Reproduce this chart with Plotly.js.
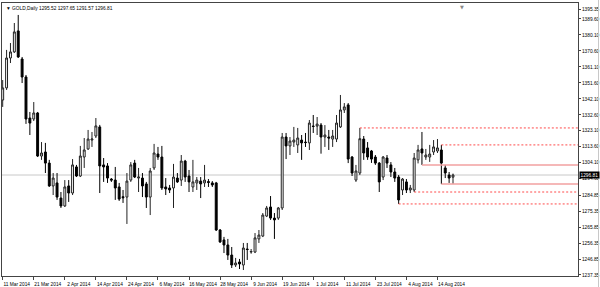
<!DOCTYPE html>
<html><head><meta charset="utf-8">
<script src="https://cdn.plot.ly/plotly-3.0.1.min.js"></script>
<style>html,body{margin:0;padding:0;background:#fff;}#chart{width:600px;height:287px;}</style>
</head><body><div id="chart"></div>
<script>
const dates = [
"2014-03-11","2014-03-12","2014-03-13","2014-03-14","2014-03-17","2014-03-18","2014-03-19","2014-03-20","2014-03-21","2014-03-24","2014-03-25","2014-03-26","2014-03-27","2014-03-28","2014-03-31",
"2014-04-01","2014-04-02","2014-04-03","2014-04-04","2014-04-07","2014-04-08","2014-04-09","2014-04-10","2014-04-11","2014-04-14","2014-04-15","2014-04-16","2014-04-17","2014-04-18","2014-04-21","2014-04-22","2014-04-23","2014-04-24","2014-04-25","2014-04-28","2014-04-29","2014-04-30",
"2014-05-01","2014-05-02","2014-05-05","2014-05-06","2014-05-07","2014-05-08","2014-05-09","2014-05-12","2014-05-13","2014-05-14","2014-05-15","2014-05-16","2014-05-19","2014-05-20","2014-05-21","2014-05-22","2014-05-23","2014-05-26","2014-05-27","2014-05-28","2014-05-29","2014-05-30",
"2014-06-02","2014-06-03","2014-06-04","2014-06-05","2014-06-06","2014-06-09","2014-06-10","2014-06-11","2014-06-12","2014-06-13","2014-06-16","2014-06-17","2014-06-18","2014-06-19","2014-06-20","2014-06-23","2014-06-24","2014-06-25","2014-06-26","2014-06-27","2014-06-30",
"2014-07-01","2014-07-02","2014-07-03","2014-07-04","2014-07-07","2014-07-08","2014-07-09","2014-07-10","2014-07-11","2014-07-14","2014-07-15","2014-07-16","2014-07-17","2014-07-18","2014-07-21","2014-07-22","2014-07-23","2014-07-24","2014-07-25","2014-07-28","2014-07-29","2014-07-30","2014-07-31",
"2014-08-01","2014-08-04","2014-08-05","2014-08-06","2014-08-07","2014-08-08","2014-08-11","2014-08-12","2014-08-13","2014-08-14","2014-08-15","2014-08-18","2014-08-19","2014-08-20"];

const openP = [1341.4,1348.6,1366.4,1370.0,1382.5,1365.8,1355.1,1330.7,1330.1,1333.7,
1308.1,1310.5,1303.9,1290.3,1292.1,1283.1,1278.4,1290.3,1286.1,1301.6,
1296.2,1307.5,1312.3,1317.6,1320.0,1325.4,1302.8,1302.2,1294.4,1293.8,
1289.7,1283.9,1283.7,1293.8,1303.9,1295.0,1295.0,1291.5,1283.7,1301.0,
1309.3,1307.5,1289.7,1289.1,1289.1,1295.0,1293.8,1305.1,1296.2,1289.7,
1292.1,1293.2,1292.1,1292.9,1292.1,1292.1,1264.1,1258.2,1255.2,1249.2,
1243.3,1245.1,1243.3,1252.8,1251.0,1251.0,1258.8,1260.5,1272.4,1277.8,
1271.2,1271.2,1277.2,1319.4,1314.1,1316.4,1314.7,1317.6,1316.4,1315.9,
1325.9,1325.9,1326.5,1319.4,1319.4,1318.2,1318.2,1325.4,1335.5,1338.5,
1307.5,1293.8,1298.0,1318.2,1312.9,1311.1,1307.5,1303.9,1295.6,1306.9,
1302.8,1298.6,1295.6,1287.9,1292.7,1287.9,1287.9,1305.8,1312.3,1307.5,
1307.5,1310.5,1311.1,1311.7,1301.0,1296.8,1295.52];
const highP = [1353.3,1371.2,1375.3,1387.2,1392.0,1367.0,1356.3,1334.3,1340.2,1334.3,
1316.4,1315.9,1305.8,1298.0,1298.0,1286.7,1293.8,1293.8,1306.3,1302.8,
1314.1,1318.8,1323.6,1322.4,1330.7,1326.6,1306.9,1303.9,1295.0,1301.6,
1292.1,1287.9,1298.0,1304.5,1305.8,1301.0,1298.0,1292.7,1301.0,1315.3,
1313.5,1314.1,1295.0,1290.9,1303.4,1298.0,1308.7,1305.8,1299.8,1305.8,
1295.6,1295.6,1302.8,1294.4,1293.2,1292.7,1264.7,1260.0,1258.8,1254.0,
1247.5,1246.9,1256.4,1256.4,1252.8,1262.3,1264.1,1274.2,1278.4,1284.3,
1274.2,1277.8,1321.8,1321.8,1319.4,1325.4,1324.8,1320.6,1321.8,1329.5,
1332.5,1331.3,1327.7,1326.5,1323.6,1323.6,1332.5,1344.4,1339.6,1339.6,
1308.1,1302.8,1324.8,1320.0,1316.4,1311.7,1308.7,1304.5,1308.1,1308.7,
1304.5,1301.0,1296.8,1295.0,1294.4,1290.9,1309.9,1314.7,1322.4,1312.3,
1314.7,1317.6,1318.2,1314.7,1302.8,1298.6,1297.65];
const lowP = [1337.3,1347.4,1363.4,1369.4,1366.4,1351.5,1327.2,1320.6,1328.9,1307.5,
1305.8,1298.0,1289.7,1284.9,1282.0,1277.2,1277.8,1280.8,1284.9,1295.6,
1295.6,1301.0,1311.7,1313.5,1318.8,1286.1,1292.7,1292.1,1292.7,1282.0,
1281.4,1280.2,1267.7,1292.7,1295.0,1286.7,1283.7,1277.2,1273.0,1299.8,
1305.8,1287.9,1284.9,1286.1,1277.2,1292.1,1290.3,1292.7,1286.7,1286.7,
1287.9,1283.1,1289.7,1289.7,1289.7,1263.5,1256.4,1250.4,1246.3,1241.5,
1242.1,1240.9,1240.3,1246.3,1250.0,1250.4,1256.4,1259.9,1271.8,1270.1,
1258.8,1270.1,1276.0,1306.3,1308.7,1313.5,1309.9,1305.8,1313.5,1311.7,
1321.8,1320.6,1309.5,1313.5,1311.7,1313.5,1316.4,1324.8,1333.7,1303.9,
1296.2,1292.7,1296.8,1305.8,1305.8,1304.0,1302.8,1286.7,1293.8,1301.0,
1295.6,1292.7,1279.6,1284.9,1286.1,1286.1,1286.7,1303.7,1302.8,1305.8,
1304.6,1308.7,1309.9,1291.4,1295.0,1292.1,1291.57];
const closeP = [1348.6,1366.4,1370.0,1381.9,1367.0,1355.1,1330.1,1327.7,1333.7,1308.1,
1309.9,1303.9,1290.3,1295.0,1283.7,1278.4,1289.7,1286.1,1302.8,1296.2,
1308.1,1311.7,1318.2,1318.2,1326.0,1302.2,1301.6,1295.0,1293.8,1289.1,
1282.5,1283.3,1293.2,1302.8,1295.6,1295.6,1290.3,1283.7,1299.2,1309.9,
1307.5,1289.1,1288.5,1287.9,1295.6,1292.7,1305.1,1295.6,1292.7,1292.7,
1293.8,1291.5,1293.8,1292.4,1290.9,1264.1,1257.0,1255.2,1249.2,1243.3,
1244.5,1243.9,1253.4,1252.5,1251.3,1259.4,1261.1,1273.0,1277.2,1271.2,
1270.1,1277.2,1319.4,1314.1,1317.0,1317.6,1318.8,1315.9,1316.1,1327.7,
1325.7,1327.1,1319.4,1320.6,1318.8,1320.0,1327.7,1335.5,1337.3,1306.3,
1298.0,1299.2,1318.4,1309.9,1307.5,1306.3,1303.9,1292.7,1307.5,1303.9,
1298.6,1295.0,1282.0,1294.4,1287.9,1289.1,1306.9,1311.7,1309.9,1308.7,
1309.3,1313.5,1312.9,1303.9,1298.0,1295.0,1296.81];

const tickDates = ["2014-03-11","2014-03-21","2014-04-02","2014-04-14","2014-04-24","2014-05-06","2014-05-16","2014-05-28","2014-06-09","2014-06-19","2014-07-01","2014-07-11","2014-07-23","2014-08-04","2014-08-14"];
const tickLabels = ["11 Mar 2014","21 Mar 2014","2 Apr 2014","14 Apr 2014","24 Apr 2014","6 May 2014","16 May 2014","28 May 2014","9 Jun 2014","19 Jun 2014","1 Jul 2014","11 Jul 2014","23 Jul 2014","4 Aug 2014","14 Aug 2014"];
const priceTicks = [1395.35,1389.60,1380.10,1370.60,1361.10,1351.60,1342.10,1332.60,1323.10,1313.60,1304.10,1294.60,1284.85,1275.35,1265.85,1256.35,1246.85,1237.35];

const symbol = "GOLD,Daily";
const lastPrice = 1296.81;
const levelPrices = [1324.8, 1314.7, 1302.8, 1291.5, 1286.7, 1279.6];
const levelStartIdx = [92, 113, 108, 113, 106, 102];
const levelSolid = [false, false, true, true, false, false];

const X_RANGE = [-0.18, 148.2];
const Y_RANGE = [1236.75, 1399.1];

const trace = {
  type: 'candlestick',
  x: dates, open: openP, high: highP, low: lowP, close: closeP,
  increasing: {line: {color: '#222', width: 1}, fillcolor: '#ffffff'},
  decreasing: {line: {color: '#000', width: 1}, fillcolor: '#000000'},
  whiskerwidth: 0,
  hoverinfo: 'skip',
  showlegend: false
};

const shapes = [
  {type:'line', xref:'paper', yref:'y', x0:0, x1:1, y0:lastPrice, y1:lastPrice,
   line:{color:'#c8c8c8', width:1}, layer:'below'}
];
levelPrices.forEach((p, i) => {
  shapes.push({type:'line', xref:'x', yref:'y', x0:levelStartIdx[i], x1:X_RANGE[1], y0:p, y1:p,
    line: levelSolid[i] ? {color:'#f2a0a0', width:1.6} : {color:'#ff4a4a', width:1, dash:'2px,2px'}});
});
shapes.push({type:'line', xref:'paper', yref:'paper', x0:1.0356, x1:1.0356, y0:-0.05, y1:1.02,
  line:{color:'#c8c8c8', width:1}});

const FONT = '"Liberation Sans",Arial,sans-serif';
const FS = 4.8;

const layout = {
  width: 600, height: 287,
  margin: {l: 2, r: 22, t: 3, b: 11, pad: 0},
  paper_bgcolor: '#fff', plot_bgcolor: '#fff',
  showlegend: false,
  font: {family: FONT, size: FS, color: '#000'},
  xaxis: {
    type: 'category', range: X_RANGE, rangeslider: {visible: false},
    tickmode: 'array', tickvals: tickDates, ticktext: tickLabels, tickangle: 0,
    ticks: 'outside', ticklen: 3, tickcolor: '#444', tickwidth: 1,
    ticklabelshift: 14, ticklabelstandoff: 0,
    showgrid: false, zeroline: false, showline: true, mirror: true,
    linecolor: '#444', linewidth: 1, fixedrange: true, automargin: false,
    tickfont: {family: FONT, size: FS, color: '#000'}
  },
  yaxis: {
    side: 'right', range: Y_RANGE,
    tickmode: 'array', tickvals: priceTicks, tickformat: '.2f',
    ticks: 'outside', ticklen: 2, tickcolor: '#444', tickwidth: 1,
    ticklabelstandoff: 0,
    showgrid: false, zeroline: false, showline: true, mirror: true,
    linecolor: '#444', linewidth: 1, fixedrange: true, automargin: false,
    tickfont: {family: FONT, size: FS, color: '#000'}
  },
  shapes: shapes,
  annotations: [
    {xref:'paper', yref:'paper', x:0, y:1, xanchor:'left', yanchor:'top', xshift:2, yshift:-1,
     showarrow:false, align:'left',
     text: '▼ ' + symbol + ' ' + [openP[openP.length-1], highP[highP.length-1], lowP[lowP.length-1], closeP[closeP.length-1]].map(v=>v.toFixed(2)).join(' '),
     font:{family: FONT, size: FS, color:'#000'}},
    {xref:'paper', yref:'y', x:1, y:lastPrice, xanchor:'left', yanchor:'middle', xshift:1,
     showarrow:false, text: lastPrice.toFixed(2), bgcolor:'#000', borderpad:0.5,
     font:{family: FONT, size: FS, color:'#fff'}},
    {xref:'paper', yref:'paper', x:(462-2)/576, y:1, xanchor:'center', yanchor:'top', yshift:1,
     showarrow:false, text:'▼', font:{family: 'DejaVu Sans', size: 5, color:'#888'}}
  ]
};

Plotly.newPlot('chart', [trace], layout, {displayModeBar: false, staticPlot: true});
</script>
</body></html>
